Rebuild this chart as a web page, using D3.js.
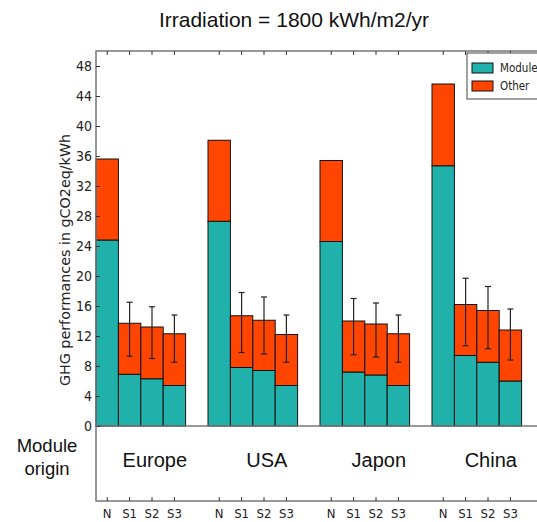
<!DOCTYPE html>
<html>
  <head>
    <script src="https://cdn.jsdelivr.net/npm/d3@7"></script>
    <style>
      body { margin: 0; background: #fff; }
    </style>
  </head>
  <body>
    <svg width="537" height="522" id="mainsvg"></svg>
    <script>
      const groups = ["Europe", "USA", "Japon", "China"];
      const scenarios = ["N", "S1", "S2", "S3"];
      // module part of each bar, per group (N, S1, S2, S3)
      const moduleValues = [
        [24.8, 6.9, 6.3, 5.4],
        [27.3, 7.8, 7.4, 5.4],
        [24.6, 7.2, 6.8, 5.4],
        [34.7, 9.4, 8.5, 6.0],
      ];
      // other part, stacked on top
      const otherValues = [
        [10.8, 6.8, 6.9, 6.9],
        [10.8, 6.9, 6.7, 6.8],
        [10.8, 6.8, 6.8, 6.9],
        [10.9, 6.8, 6.9, 6.8],
      ];
      // error bars (null = none)
      const errLow = [
        [null, 9.3, 9.0, 8.5],
        [null, 9.8, 9.6, 8.5],
        [null, 9.5, 9.2, 8.5],
        [null, 10.7, 10.3, 8.8],
      ];
      const errHigh = [
        [null, 16.5, 15.9, 14.8],
        [null, 17.8, 17.2, 14.8],
        [null, 17.0, 16.4, 14.8],
        [null, 19.7, 18.6, 15.6],
      ];
      const yTicks = d3.range(0, 49, 4);

      const colors = { module: "#20B2AA", other: "#FF4500" };

      const svg = d3.select("#mainsvg");
      const margin = { left: 96, right: 544, top: 51, bottom: 426, low: 501 };

      // flat table, one row per bar
      const rows = [];
      groups.forEach((g, gi) => {
        scenarios.forEach((s, si) => {
          rows.push({
            key: g + "|" + s,
            module: moduleValues[gi][si],
            other: otherValues[gi][si],
            lo: errLow[gi][si],
            hi: errHigh[gi][si],
          });
        });
      });

      // every group has 4 bars plus an empty slot
      const slots = groups.flatMap((g) => scenarios.map((s) => g + "|" + s).concat([g + "|gap"]));
      const x = d3.scaleBand().domain(slots).range([margin.left, margin.right]).padding(0);
      const y = d3.scaleLinear().domain([0, 50]).range([margin.bottom, margin.top]);

      const stacked = d3.stack().keys(["module", "other"])(rows);

      // bars
      svg.append("g")
        .selectAll("g")
        .data(stacked)
        .join("g")
        .attr("fill", (d) => colors[d.key])
        .selectAll("rect")
        .data((d) => d)
        .join("rect")
        .attr("x", (d) => x(d.data.key))
        .attr("width", x.bandwidth())
        .attr("y", (d) => y(d[1]))
        .attr("height", (d) => y(d[0]) - y(d[1]))
        .attr("stroke", "#111")
        .attr("stroke-width", 1);

      // error bars
      const eb = svg.append("g").attr("stroke", "#222").attr("stroke-width", 1.2);
      rows.filter((d) => d.lo !== null).forEach((d) => {
        const cx = x(d.key) + x.bandwidth() / 2;
        eb.append("line").attr("x1", cx).attr("x2", cx).attr("y1", y(d.lo)).attr("y2", y(d.hi));
        eb.append("line").attr("x1", cx - 3).attr("x2", cx + 3).attr("y1", y(d.lo)).attr("y2", y(d.lo));
        eb.append("line").attr("x1", cx - 3).attr("x2", cx + 3).attr("y1", y(d.hi)).attr("y2", y(d.hi));
      });

      // frame of the top panel
      svg.append("rect")
        .attr("x", margin.left).attr("y", margin.top)
        .attr("width", margin.right - margin.left).attr("height", margin.bottom - margin.top)
        .attr("fill", "none").attr("stroke", "#777").attr("stroke-width", 1.5);

      // y axis, ticks pointing inwards
      const yAxis = d3.axisLeft(y).tickValues(yTicks).tickSizeInner(-4).tickSizeOuter(0).tickPadding(4);
      const yg = svg.append("g").attr("transform", `translate(${margin.left},0)`).call(yAxis);
      yg.select(".domain").remove();
      yg.selectAll(".tick line").attr("stroke", "#333");
      yg.selectAll(".tick text")
        .attr("font-family", "DejaVu Sans Condensed, DejaVu Sans")
        .attr("font-size", 14)
        .attr("fill", "#222");

      // top ticks at bar centres
      const barKeys = rows.map((d) => d.key);
      const topAxis = d3.axisTop(x).tickValues(barKeys).tickSizeInner(-4).tickSizeOuter(0).tickFormat("");
      const tg = svg.append("g").attr("transform", `translate(0,${margin.top})`).call(topAxis);
      tg.select(".domain").remove();
      tg.selectAll(".tick line").attr("stroke", "#333");

      // lower panel
      svg.append("path")
        .attr("d", `M${margin.left},${margin.bottom} V${margin.low} H${margin.right}`)
        .attr("fill", "none").attr("stroke", "#777").attr("stroke-width", 1.5);

      const bottomAxis = d3.axisBottom(x).tickValues(barKeys).tickSizeInner(-4).tickSizeOuter(0)
        .tickPadding(8).tickFormat((k) => k.split("|")[1]);
      const bg = svg.append("g").attr("transform", `translate(0,${margin.low})`).call(bottomAxis);
      bg.select(".domain").remove();
      bg.selectAll(".tick line").attr("stroke", "#333");
      bg.selectAll(".tick text")
        .attr("font-family", "DejaVu Sans Condensed, DejaVu Sans")
        .attr("font-size", 13)
        .attr("fill", "#222");

      // group names in the lower panel
      svg.append("g")
        .selectAll("text")
        .data(groups)
        .join("text")
        .attr("x", (g) => (x(g + "|N") + x(g + "|S3") + x.bandwidth()) / 2 + 14)
        .attr("y", 467)
        .attr("text-anchor", "middle")
        .attr("font-family", "Liberation Sans, Arial, sans-serif")
        .attr("font-size", 20)
        .attr("fill", "#111")
        .text((g) => g);

      svg.append("text")
        .attr("text-anchor", "middle")
        .attr("font-family", "Liberation Sans, Arial, sans-serif")
        .attr("font-size", 18.5)
        .attr("fill", "#111")
        .selectAll("tspan")
        .data(["Module", "origin"])
        .join("tspan")
        .attr("x", 47)
        .attr("y", (d, i) => 452 + i * 23)
        .text((d) => d);

      // y label
      svg.append("text")
        .attr("transform", "translate(70,260) rotate(-90)")
        .attr("text-anchor", "middle")
        .attr("font-family", "DejaVu Sans, sans-serif")
        .attr("font-size", 14.3)
        .attr("fill", "#222")
        .text("GHG performances in gCO2eq/kWh");

      // title
      svg.append("text")
        .attr("x", 294)
        .attr("y", 27)
        .attr("text-anchor", "middle")
        .attr("font-family", "Liberation Sans, Arial, sans-serif")
        .attr("font-size", 21)
        .attr("fill", "#111")
        .text("Irradiation = 1800 kWh/m2/yr");

      // legend
      const legend = svg.append("g").attr("transform", "translate(467,53)");
      legend.append("rect")
        .attr("width", 90).attr("height", 46)
        .attr("fill", "#fff").attr("stroke", "#444").attr("stroke-width", 1);
      [["Module", "module"], ["Other", "other"]].forEach(([label, key], i) => {
        legend.append("rect")
          .attr("x", 5).attr("y", 10 + i * 18)
          .attr("width", 21).attr("height", 10)
          .attr("fill", colors[key]).attr("stroke", "#111").attr("stroke-width", 1);
        legend.append("text")
          .attr("x", 33).attr("y", 19 + i * 18)
          .attr("font-family", "DejaVu Sans Condensed, DejaVu Sans")
          .attr("font-size", 11.5)
          .attr("fill", "#222")
          .text(label);
      });
    </script>
  </body>
</html>
